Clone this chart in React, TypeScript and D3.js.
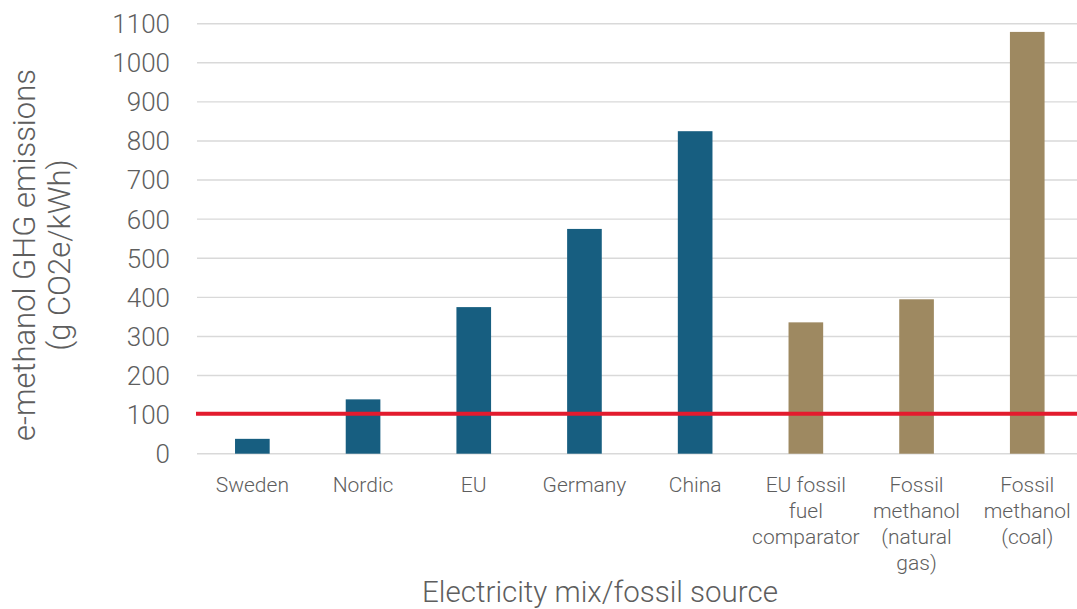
import React from "react";
import * as d3 from "d3";

const categories = [
  "Sweden",
  "Nordic",
  "EU",
  "Germany",
  "China",
  "EU fossil\nfuel\ncomparator",
  "Fossil\nmethanol\n(natural\ngas)",
  "Fossil\nmethanol\n(coal)",
];
const values = [38, 139, 375, 575, 825, 336, 395, 1079];
const groups = ["elec", "elec", "elec", "elec", "elec", "fossil", "fossil", "fossil"];
const yTicks = [0, 100, 200, 300, 400, 500, 600, 700, 800, 900, 1000, 1100];
const threshold = 102;

const W = 1077;
const H = 609;
const FONT = "Roboto, 'Noto Sans', sans-serif";
const TEXT = "#5e5e5e";

export default function App() {
  const left = 197;
  const right = 1082.6;
  const top = 23.7;
  const bottom = 453.7;

  const x = d3.scaleBand<string>().domain(categories).range([left, right]).padding(0);
  const y = d3.scaleLinear().domain([0, 1100]).range([bottom, top]);
  const color = d3.scaleOrdinal<string, string>().domain(["elec", "fossil"]).range(["#175E80", "#9E8961"]);
  const barW = x.bandwidth() * 0.313;

  return (
    <svg width={W} height={H} style={{ position: "absolute", left: 0, top: 0, background: "#fff" }} fontFamily={FONT}>
      <rect x={0} y={0} width={W} height={H} fill="#fff" />
      {yTicks.map((t) => (
        <g key={t}>
          <line x1={left} x2={W} y1={y(t)} y2={y(t)} stroke="#d9d9d9" strokeWidth={1.4} />
          <text x={170} y={y(t)} dy="0.36em" textAnchor="end" fontSize={26} fontWeight={300} fill={TEXT}>
            {t}
          </text>
        </g>
      ))}
      {categories.map((c, i) => (
        <rect
          key={c}
          x={(x(c) as number) + x.bandwidth() / 2 - barW / 2}
          y={y(values[i])}
          width={barW}
          height={y(0) - y(values[i])}
          fill={color(groups[i])}
        />
      ))}
      <line x1={left - 1} x2={W} y1={y(threshold)} y2={y(threshold)} stroke="#E31B2E" strokeWidth={4} />
      {categories.map((c) => {
        const lines = c.split("\n");
        const cx = (x(c) as number) + x.bandwidth() / 2;
        return (
          <text key={c} x={cx} y={491.5} textAnchor="middle" fontSize={21} fontWeight={300} fill={TEXT}>
            {lines.map((l, j) => (
              <tspan key={j} x={cx} dy={j === 0 ? 0 : 26}>
                {l}
              </tspan>
            ))}
          </text>
        );
      })}
      <text x={600} y={602} textAnchor="middle" fontSize={29.5} fontWeight={300} fill={TEXT}>
        Electricity mix/fossil source
      </text>
      <g transform="translate(0,255) rotate(-90)">
        <text x={0} y={35} textAnchor="middle" fontSize={31} fontWeight={300} fill={TEXT}>
          e-methanol GHG emissions
        </text>
        <text x={0} y={70} textAnchor="middle" fontSize={31} fontWeight={300} fill={TEXT}>
          (g CO2e/kWh)
        </text>
      </g>
    </svg>
  );
}
